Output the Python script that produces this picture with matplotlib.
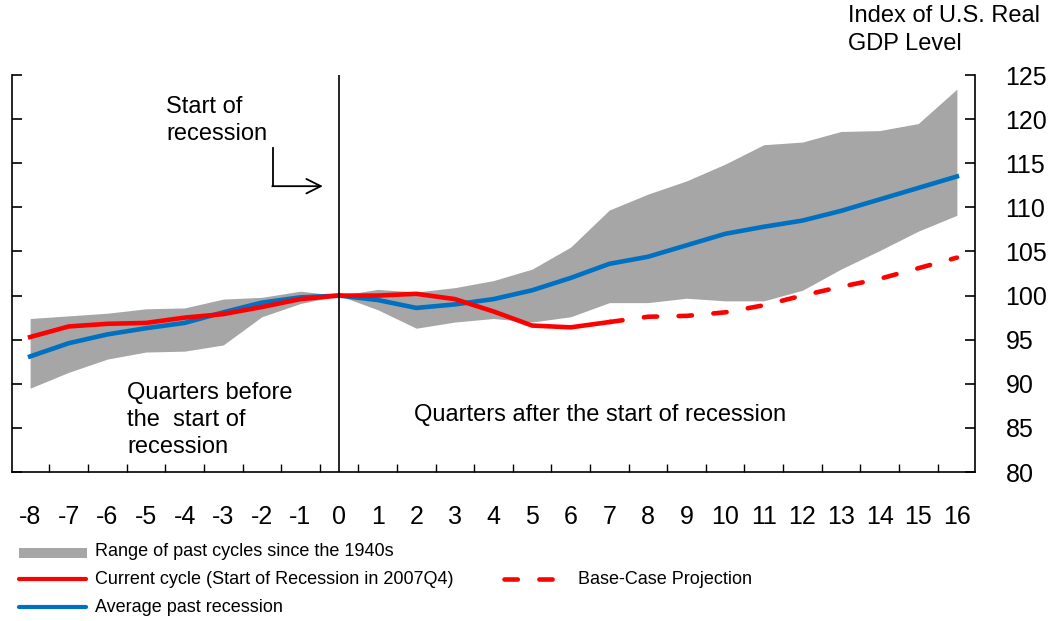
import matplotlib
matplotlib.use("Agg")
import matplotlib.pyplot as plt
from matplotlib.lines import Line2D
from matplotlib.patches import Rectangle

plt.rcParams['font.family'] = ['Liberation Sans', 'DejaVu Sans']

# --------------------------
# DATA (quarters relative to start of recession, index = 100 at 0)
# --------------------------
quarters = list(range(-8, 17))

band_upper = [97.4, 97.7, 98.0, 98.5, 98.6, 99.6, 99.8, 100.5, 100.0,
              100.7, 100.4, 100.9, 101.7, 103.0, 105.5, 109.7, 111.5,
              113.0, 114.9, 117.1, 117.4, 118.6, 118.7, 119.5, 123.4]
band_lower = [89.5, 91.3, 92.8, 93.6, 93.7, 94.4, 97.6, 99.1, 100.0,
              98.4, 96.3, 97.0, 97.4, 97.0, 97.6, 99.2, 99.2,
              99.7, 99.4, 99.4, 100.6, 103.0, 105.1, 107.3, 109.1]
average_past = [93.1, 94.6, 95.6, 96.3, 96.9, 98.1, 99.2, 99.8, 100.0,
                99.5, 98.6, 99.0, 99.6, 100.6, 102.0, 103.6, 104.4,
                105.7, 107.0, 107.8, 108.5, 109.6, 110.9, 112.2, 113.5]

current_quarters = list(range(-8, 8))
current_cycle = [95.3, 96.5, 96.8, 96.9, 97.5, 97.9, 98.7, 99.6, 100.0,
                 100.0, 100.2, 99.6, 98.2, 96.6, 96.4, 97.0]

proj_quarters = list(range(7, 17))
projection = [97.0, 97.6, 97.7, 98.1, 98.9, 100.0, 101.0, 101.9, 103.1, 104.3]

x_labels = [str(q) for q in quarters]
y_ticks = list(range(80, 126, 5))

RED = "#FF0000"
BLUE = "#0070C0"
GRAY = "#A6A6A6"
DASH = (0, (2.9, 4.7))

# --------------------------
# FIGURE
# --------------------------
fig = plt.figure(figsize=(10.5, 6.21), dpi=100)
ax = fig.add_axes([0.0114, 0.2399, 0.9172, 0.6393])

ax.fill_between(quarters, band_lower, band_upper, color=GRAY, linewidth=0, zorder=1)
ax.plot(quarters, average_past, color=BLUE, linewidth=3.3, zorder=3)
ax.plot(current_quarters, current_cycle, color=RED, linewidth=3.3, zorder=4)
ax.plot(proj_quarters, projection, color=RED, linewidth=3.3, zorder=4,
        linestyle=DASH, dash_capstyle="round")
ax.axvline(0, color="black", linewidth=1.2, zorder=5)

ax.set_xlim(-8.47, 16.47)
ax.set_ylim(80, 125)

# y axis: labels on the right, ticks inward on both spines
ax.set_yticks(y_ticks)
ax.yaxis.tick_right()
ax.tick_params(axis="y", which="major", direction="in", length=7, width=1.2,
               left=True, right=True, labelleft=False, labelright=True,
               labelsize=18, pad=22)

# x axis: labels at integers, tick marks between categories
ax.set_xticks(quarters)
ax.set_xticklabels(x_labels)
ax.set_xticks([q + 0.5 for q in quarters[:-1]], minor=True)
ax.tick_params(axis="x", which="major", length=0, labelsize=18, pad=24)
ax.tick_params(axis="x", which="minor", direction="in", length=6, width=1.0)

ax.spines["top"].set_visible(False)
for side in ["left", "right", "bottom"]:
    ax.spines[side].set_linewidth(1.2)

# annotations
ax.text(-4.48, 119.8, "Start of\nrecession", fontsize=17, ha="left", va="center",
        linespacing=1.3)
ax.plot([-1.71, -1.71], [116.7, 112.4], color="black", linewidth=1.3)
ax.annotate("", xy=(-0.42, 112.4), xytext=(-1.73, 112.4),
            arrowprops=dict(arrowstyle="->", color="black", lw=1.3,
                            mutation_scale=26, shrinkA=0, shrinkB=0))
ax.text(-5.49, 85.9, "Quarters before\nthe  start of\nrecession", fontsize=17,
        ha="left", va="center", linespacing=1.3)
ax.text(1.94, 86.5, "Quarters after the start of recession", fontsize=17,
        ha="left", va="center")

fig.text(848 / 1050, 1 - 30 / 621, "Index of U.S. Real\nGDP Level", fontsize=17,
         ha="left", va="center", linespacing=1.3)

# --------------------------
# LEGEND (drawn manually to match the layout)
# --------------------------
fig.add_artist(Rectangle((19 / 1050, 1 - 558 / 621), 68 / 1050, 10 / 621,
                         transform=fig.transFigure, color=GRAY, linewidth=0))
fig.text(95 / 1050, 1 - 552 / 621, "Range of past cycles since the 1940s",
         fontsize=13, va="center")

fig.add_artist(Line2D([19 / 1050, 86 / 1050], [1 - 579 / 621, 1 - 579 / 621],
                      transform=fig.transFigure, color=RED, linewidth=3.0,
                      solid_capstyle="round"))
fig.text(95 / 1050, 1 - 579 / 621, "Current cycle (Start of Recession in 2007Q4)",
         fontsize=13, va="center")

fig.add_artist(Line2D([504 / 1050, 555 / 1050], [1 - 579 / 621, 1 - 579 / 621],
                      transform=fig.transFigure, color=RED, linewidth=3.3,
                      linestyle=DASH, dash_capstyle="round"))
fig.text(578 / 1050, 1 - 579 / 621, "Base-Case Projection",
         fontsize=13, va="center")

fig.add_artist(Line2D([19 / 1050, 86 / 1050], [1 - 607 / 621, 1 - 607 / 621],
                      transform=fig.transFigure, color=BLUE, linewidth=3.0,
                      solid_capstyle="round"))
fig.text(95 / 1050, 1 - 607 / 621, "Average past recession",
         fontsize=13, va="center")

fig.savefig("out.png", dpi=100)
